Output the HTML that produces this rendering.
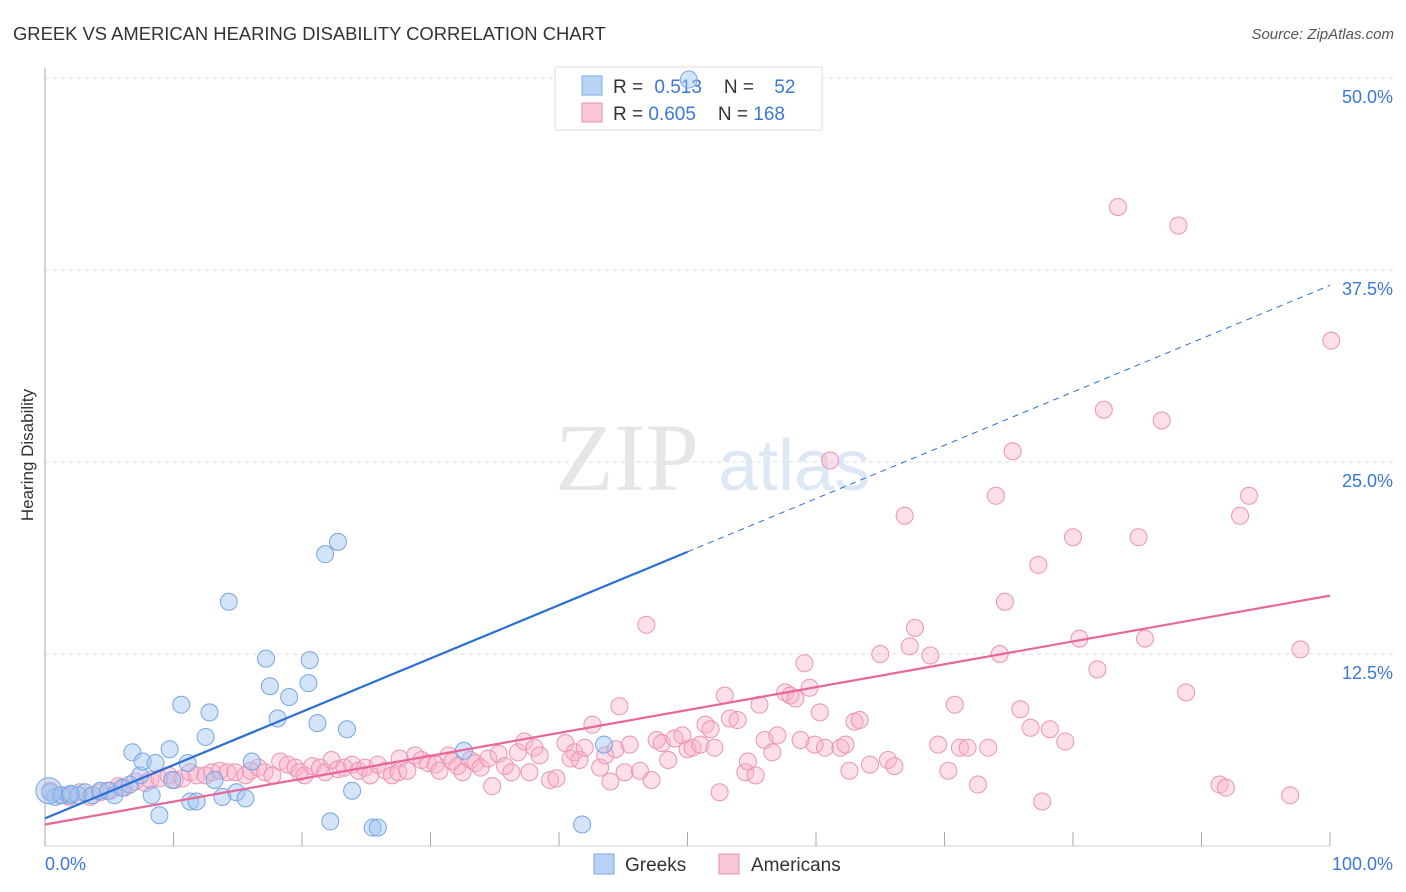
<!DOCTYPE html>
<html><head><meta charset="utf-8">
<style>
body{margin:0;background:#fff;font-family:"Liberation Sans",sans-serif;}
svg{display:block}
</style></head>
<body>
<svg width="1406" height="892" viewBox="0 0 1406 892" xmlns="http://www.w3.org/2000/svg">
<text x="13" y="40" font-size="18.4" fill="#333">GREEK VS AMERICAN HEARING DISABILITY CORRELATION CHART</text>
<text x="1394" y="39" font-size="15" fill="#555" font-style="italic" text-anchor="end">Source: ZipAtlas.com</text>
<g id="grid"></g>
<text x="555" y="490" font-size="96" font-family="Liberation Serif,serif" fill="#e6e6e6">ZIP</text>
<text x="718" y="490" font-size="72" fill="#dde8f6">atlas</text>
<g id="axes"></g>
<text transform="translate(33,455) rotate(-90)" font-size="17" fill="#333" text-anchor="middle">Hearing Disability</text>
<g>
<rect x="555" y="67" width="267" height="63" fill="#fff" stroke="#ddd"/>
<rect x="582" y="76" width="20" height="19" fill="#b8d3f5" stroke="#7aa8e8"/>
<rect x="582" y="103" width="20" height="19" fill="#fac7d7" stroke="#eb8fb0"/>
<text x="613" y="93" font-size="19" fill="#333">R = <tspan fill="#3a78d8" dx="6">0.513</tspan><tspan fill="#333" dx="22">N = </tspan><tspan fill="#3a78d8" dx="15">52</tspan></text>
<text x="613" y="120" font-size="19" fill="#333">R = <tspan fill="#3a78d8">0.605</tspan><tspan fill="#333" dx="22">N = </tspan><tspan fill="#3a78d8">168</tspan></text>
</g>
<g id="pink"></g>
<g id="blue"></g>
<g id="lines"></g>
<g>
<rect x="594" y="854" width="20" height="20" fill="#b8d3f5" stroke="#7aa8e8"/>
<text x="625" y="871" font-size="19" fill="#333">Greeks</text>
<rect x="719" y="854" width="20" height="20" fill="#fac7d7" stroke="#eb8fb0"/>
<text x="751" y="871" font-size="19" fill="#333">Americans</text>
</g>
</svg>
<script>
const yTicks=[12.5,25,37.5,50];
const yTickLabels=["12.5%","25.0%","37.5%","50.0%"];
const xTicks=[0,10,20,30,40,50,60,70,80,90,100];
const blueX=[0.4,0.8,1.3,1.9,2.6,3.1,3.7,4.3,4.9,5.4,6.0,6.6,6.8,7.4,7.6,8.3,8.6,8.9,9.7,9.9,10.6,11.1,11.3,11.8,12.5,12.8,13.2,13.8,14.3,14.9,15.6,16.1,17.2,17.5,18.1,19.0,20.5,20.6,21.2,21.8,22.2,22.8,23.5,23.9,25.5,25.9,32.6,41.8,43.5,50.1,0.3,2.0];
const blueY=[3.5,3.2,3.3,3.3,3.3,3.5,3.3,3.6,3.6,3.3,3.8,4.0,6.1,4.6,5.5,3.3,5.4,2.0,6.3,4.3,9.2,5.4,2.9,2.9,7.1,8.7,4.3,3.2,15.9,3.5,3.1,5.5,12.2,10.4,8.3,9.7,10.6,12.1,8.0,19.0,1.6,19.8,7.6,3.6,1.2,1.2,6.2,1.4,6.6,49.9,3.6,3.4];
const pinkX=[0.4,1.2,1.9,2.7,3.5,4.3,5.1,5.7,6.2,7.0,7.8,8.2,8.9,9.6,10.1,10.7,11.3,11.8,12.5,13.0,13.6,14.2,14.8,15.6,16.0,16.6,17.1,17.7,18.3,18.9,19.5,19.8,20.2,20.8,21.4,21.8,22.3,22.8,23.3,23.9,24.4,24.9,25.3,25.9,26.5,27.0,27.5,27.6,28.2,28.8,29.3,29.8,30.4,30.7,31.4,31.7,32.1,32.5,33.1,33.5,33.9,34.5,34.8,35.3,35.8,36.3,36.8,37.3,37.7,38.1,38.5,39.3,39.8,40.5,40.9,41.2,41.6,42.0,42.6,43.2,43.6,44.0,44.4,44.7,45.1,45.5,46.3,46.8,47.2,47.6,48.0,48.5,49.0,49.6,50.0,50.4,51.0,51.4,51.8,52.1,52.5,52.9,53.3,53.9,54.5,54.7,55.3,55.6,56.0,56.6,57.0,57.6,58.0,58.4,58.8,59.1,59.5,59.9,60.3,60.7,61.1,61.9,62.3,62.6,63.0,63.4,64.2,65.0,65.6,66.1,66.9,67.3,67.7,68.9,69.5,70.3,70.8,71.2,71.8,72.6,73.4,74.0,74.3,74.7,75.3,75.9,76.7,77.3,77.6,78.2,79.4,80.0,80.5,81.9,82.4,83.5,85.1,85.6,86.9,88.2,88.8,91.4,91.9,93.0,93.7,96.9,97.7,100.1];
const pinkY=[3.6,3.3,3.2,3.5,3.2,3.5,3.6,3.9,3.8,4.2,4.1,4.3,4.4,4.6,4.3,4.4,4.8,4.6,4.6,4.8,4.9,4.8,4.8,4.6,4.9,5.1,4.8,4.6,5.5,5.3,5.1,4.8,4.6,5.2,5.1,4.8,5.6,5.0,5.1,5.3,4.9,5.1,4.6,5.3,4.9,4.6,4.8,5.7,4.9,5.9,5.6,5.4,5.3,4.9,5.9,5.5,5.2,4.8,5.6,5.4,5.1,5.7,3.9,6.0,5.2,4.8,6.1,6.8,4.8,6.4,5.9,4.3,4.4,6.7,5.7,6.1,5.6,6.4,7.9,5.1,5.9,4.2,6.3,9.1,4.8,6.6,4.9,14.4,4.3,6.9,6.7,5.6,7.0,7.2,6.3,6.4,6.6,7.9,7.6,6.4,3.5,9.8,8.3,8.2,4.8,5.5,4.6,9.2,6.9,6.1,7.2,10.0,9.8,9.6,6.9,11.9,10.3,6.6,8.7,6.4,25.1,6.4,6.6,4.9,8.1,8.2,5.3,12.5,5.6,5.2,21.5,13.0,14.2,12.4,6.6,4.9,9.2,6.4,6.4,4.0,6.4,22.8,12.5,15.9,25.7,8.9,7.7,18.3,2.9,7.6,6.8,20.1,13.5,11.5,28.4,41.6,20.1,13.5,27.7,40.4,10.0,4.0,3.8,21.5,22.8,3.3,12.8,32.9];
const blueTrend=[1.8,36.5];
const pinkTrend=[1.4,16.3];
const NS="http://www.w3.org/2000/svg";
const X0=45,X1=1330,Y0=846,Y50=78;
const sx=v=>X0+(X1-X0)*v/100;
const sy=v=>Y0-(Y0-Y50)*v/50;
function mk(t,a,p){const e=document.createElementNS(NS,t);for(const k in a)e.setAttribute(k,a[k]);p.appendChild(e);return e;}
const grid=document.getElementById('grid'),axes=document.getElementById('axes');
yTicks.forEach((v,i)=>{
 const l=mk('line',{x1:X0,x2:1394,y1:sy(v),y2:sy(v),stroke:'#ddd','stroke-dasharray':'4,4'},grid);
 
 
 const t=mk('text',{x:1393,y:sy(v)+25,'font-size':18,fill:'#3a78d8','text-anchor':'end'},axes);
 t.textContent=yTickLabels[i];
 
 
});
const ax=mk('line',{x1:X0,x2:X0,y1:68,y2:Y0,stroke:'#aaa'},axes);


const bx=mk('line',{x1:X0,x2:X1,y1:Y0,y2:Y0,stroke:'#ccc'},axes);


xTicks.forEach(v=>{
 const l=mk('line',{x1:sx(v),x2:sx(v),y1:832,y2:Y0,stroke:'#aaa'},axes);
 
 
});
const xl=mk('text',{x:45,y:870,'font-size':18,fill:'#3a78d8'},axes);xl.textContent='0.0%';


const xr=mk('text',{x:1393,y:870,'font-size':18,fill:'#3a78d8','text-anchor':'end'},axes);xr.textContent='100.0%';


const pg=document.getElementById('pink');
pinkX.forEach((x,i)=>{
 const c=mk('circle',{cx:sx(x),cy:sy(pinkY[i]),r:8.5,fill:'rgba(248,175,200,0.4)',stroke:'#ec93b3','stroke-width':1},pg);
 
 
});
const bg=document.getElementById('blue');
blueX.forEach((x,i)=>{
 const c=mk('circle',{cx:sx(x),cy:sy(blueY[i]),r:i==50?13:8.5,fill:'rgba(160,196,240,0.45)',stroke:'#76a5e6','stroke-width':1},bg);
 
 
});
const lg=document.getElementById('lines');
const bAt=v=>blueTrend[0]+(blueTrend[1]-blueTrend[0])*v/100;
const l1=mk('line',{x1:sx(0),y1:sy(bAt(0)),x2:sx(50),y2:sy(bAt(50)),stroke:'#2a6fd6','stroke-width':2.2},lg);


const l2=mk('line',{x1:sx(50),y1:sy(bAt(50)),x2:sx(100),y2:sy(bAt(100)),stroke:'#2a6fd6','stroke-width':1,'stroke-dasharray':'6,5'},lg);


const l3=mk('line',{x1:sx(0),y1:sy(pinkTrend[0]),x2:sx(100),y2:sy(pinkTrend[1]),stroke:'#e8679a','stroke-width':2.2},lg);


</script>
</body></html>
